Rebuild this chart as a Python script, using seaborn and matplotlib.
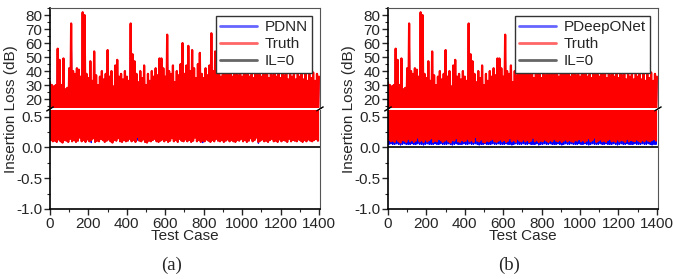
import numpy as np
import pandas as pd
import matplotlib
matplotlib.use("Agg")
import matplotlib.pyplot as plt
from matplotlib.lines import Line2D
from matplotlib.ticker import MultipleLocator
import seaborn as sns

sns.set_style("ticks")
plt.rcParams["font.family"] = ["Liberation Sans", "DejaVu Sans"]
plt.rcParams["axes.unicode_minus"] = False

# test case positions of the sampled peaks / valleys
case_hi = np.arange(0, 1401, 10)
case_lo = case_hi[:-1] + 5

# insertion loss peaks (dB), one every 10 test cases
truth_hi = [32, 30, 29, 30, 56, 48, 30, 49, 27, 28,
            42, 74, 40, 38, 42, 41, 36, 82, 80, 38,
            35, 47, 33, 54, 37, 30, 36, 40, 34, 38,
            55, 36, 40, 29, 44, 48, 36, 38, 34, 40,
            36, 33, 74, 52, 47, 38, 32, 40, 35, 44,
            30, 38, 33, 40, 36, 42, 37, 49, 49, 42,
            36, 66, 40, 38, 44, 32, 40, 37, 45, 60,
            38, 44, 58, 40, 55, 42, 35, 45, 53, 38,
            35, 42, 37, 44, 67, 40, 54, 38, 42, 36,
            40, 38, 44, 62, 40, 36, 38, 42, 37, 40,
            36, 41, 38, 42, 36, 40, 35, 41, 38, 40,
            36, 42, 38, 40, 35, 41, 37, 40, 36, 39,
            35, 40, 37, 38, 34, 41, 36, 39, 34, 38,
            36, 40, 34, 38, 33, 40, 35, 39, 33, 38,
            36]

# insertion loss valleys (dB)
truth_lo = [0.12, 0.10, 0.11, 0.09, 0.13, 0.10, 0.08, 0.12, 0.11, 0.09,
            0.14, 0.10, 0.12, 0.09, 0.11, 0.16, 0.10, 0.12, 0.09, 0.13,
            0.10, 0.12, 0.15, 0.09, 0.11, 0.10, 0.14, 0.12, 0.09, 0.11,
            0.13, 0.10, 0.08, 0.12, 0.11, 0.15, 0.10, 0.09, 0.12, 0.10,
            0.11, 0.14, 0.10, 0.12, 0.09, 0.17, 0.11, 0.10, 0.13, 0.09,
            0.08, 0.11, 0.10, 0.12, 0.14, 0.10, 0.09, 0.11, 0.13, 0.10,
            0.12, 0.09, 0.11, 0.15, 0.10, 0.12, 0.09, 0.14, 0.11, 0.10,
            0.13, 0.10, 0.12, 0.09, 0.11, 0.16, 0.10, 0.12, 0.09, 0.11,
            0.10, 0.13, 0.11, 0.09, 0.12, 0.10, 0.14, 0.11, 0.10, 0.12,
            0.09, 0.11, 0.13, 0.10, 0.12, 0.10, 0.09, 0.12, 0.11, 0.14,
            0.10, 0.12, 0.09, 0.11, 0.15, 0.10, 0.12, 0.16, 0.09, 0.11,
            0.13, 0.10, 0.11, 0.09, 0.12, 0.14, 0.10, 0.11, 0.09, 0.13,
            0.10, 0.12, 0.11, 0.09, 0.14, 0.10, 0.12, 0.11, 0.10, 0.13,
            0.11, 0.09, 0.12, 0.10, 0.13, 0.11, 0.10, 0.12, 0.14, 0.11]

# PDNN follows the truth almost exactly
pdnn_lo = list(truth_lo)
pdnn_lo[21] = 0.08
pdnn_lo[45] = 0.12
pdnn_lo[79] = 0.08
pdnn_lo[108] = 0.07

# PDeepONet valleys sit a bit lower
pdeep_lo = [0.05, 0.06, 0.05, 0.05, 0.06, 0.05, 0.04, 0.05, 0.06, 0.05,
            0.05, 0.05, 0.06, 0.05, 0.05, 0.06, 0.05, 0.05, 0.04, 0.05,
            0.06, 0.05, 0.05, 0.05, 0.06, 0.05, 0.05, 0.06, 0.05, 0.05,
            0.05, 0.06, 0.05, 0.04, 0.05, 0.06, 0.05, 0.05, 0.05, 0.06,
            0.05, 0.05, 0.06, 0.05, 0.05, 0.06, 0.05, 0.04, 0.05, 0.05,
            0.06, 0.05, 0.05, 0.05, 0.06, 0.05, 0.05, 0.06, 0.05, 0.05,
            0.05, 0.06, 0.05, 0.05, 0.04, 0.05, 0.06, 0.05, 0.05, 0.05,
            0.06, 0.05, 0.05, 0.06, 0.05, 0.05, 0.05, 0.06, 0.04, 0.05,
            0.05, 0.06, 0.05, 0.05, 0.06, 0.05, 0.05, 0.05, 0.06, 0.05,
            0.04, 0.05, 0.06, 0.05, 0.05, 0.06, 0.05, 0.05, 0.05, 0.06,
            0.05, 0.05, 0.06, 0.05, 0.04, 0.05, 0.06, 0.05, 0.05, 0.05,
            0.06, 0.05, 0.05, 0.06, 0.05, 0.05, 0.05, 0.06, 0.05, 0.04,
            0.05, 0.06, 0.05, 0.05, 0.06, 0.05, 0.05, 0.05, 0.06, 0.05,
            0.05, 0.05, 0.06, 0.05, 0.05, 0.06, 0.05, 0.04, 0.05, 0.05]


def zigzag(hi, lo):
    x, y = [], []
    for i in range(len(lo)):
        x += [case_hi[i], case_lo[i]]
        y += [hi[i], lo[i]]
    x.append(case_hi[-1])
    y.append(hi[-1])
    return pd.DataFrame({"case": x, "il": y})


fig = plt.figure(figsize=(6.73, 2.79), dpi=100)
FS = 11


def panel(x0, pred_name, pred_lo, tag):
    top = fig.add_axes([x0, 0.613, 0.401, 0.358])
    bot = fig.add_axes([x0, 0.251, 0.401, 0.355])
    pred = zigzag(truth_hi, pred_lo)
    truth = zigzag(truth_hi, truth_lo)
    for ax in (top, bot):
        sns.lineplot(data=pred, x="case", y="il", ax=ax, color="blue", lw=1.0,
                     sort=False, estimator=None)
        sns.lineplot(data=truth, x="case", y="il", ax=ax, color="red", lw=1.6,
                     sort=False, estimator=None)
        ax.set_xlim(0, 1405)
        ax.set_xlabel("")
        ax.set_ylabel("")
        ax.tick_params(axis="both", which="major", direction="out", length=4,
                       width=1, labelsize=FS, pad=1.5)
        ax.tick_params(axis="both", which="minor", direction="out", length=2, width=0.8)
        ax.spines["left"].set_linewidth(1.2)
        ax.spines["left"].set_color("black")
        for s in ("top", "right"):
            ax.spines[s].set_visible(True)
            ax.spines[s].set_linewidth(0.8)
            ax.spines[s].set_color("#555555")
    bot.axhline(0, color="black", lw=1.2)

    top.set_ylim(13.6, 85)
    top.yaxis.set_major_locator(MultipleLocator(10))
    top.yaxis.set_minor_locator(MultipleLocator(5))
    top.set_yticks(range(20, 81, 10))
    top.tick_params(axis="x", which="both", bottom=False, labelbottom=False)
    top.spines["bottom"].set_visible(False)

    bot.set_ylim(-1.0, 0.61)
    bot.yaxis.set_major_locator(MultipleLocator(0.5))
    bot.yaxis.set_minor_locator(MultipleLocator(0.25))
    bot.yaxis.set_major_formatter(matplotlib.ticker.FormatStrFormatter("%.1f"))
    bot.xaxis.set_major_locator(MultipleLocator(200))
    bot.xaxis.set_minor_locator(MultipleLocator(100))
    bot.spines["top"].set_visible(False)
    bot.spines["bottom"].set_linewidth(1.2)
    bot.spines["bottom"].set_color("black")
    bot.set_xlabel("Test Case", fontsize=FS, labelpad=-1)

    # break marks
    d = 0.012
    kw = dict(color="black", lw=0.8, clip_on=False)
    for xe in (0, 1):
        top.plot((xe - d, xe + d), (-0.03, 0.01), transform=top.transAxes, **kw)
        bot.plot((xe - d, xe + d), (0.99, 1.03), transform=bot.transAxes, **kw)

    handles = [Line2D([], [], color="blue", alpha=0.6, lw=2),
               Line2D([], [], color="red", alpha=0.6, lw=2),
               Line2D([], [], color="black", alpha=0.6, lw=2)]
    leg = top.legend(handles, [pred_name, "Truth", "IL=0"], loc="upper right",
                     fontsize=FS, frameon=True, fancybox=False,
                     handlelength=2.4, labelspacing=0.2, borderpad=0.3,
                     handletextpad=0.5, borderaxespad=0.5)
    leg.get_frame().set_edgecolor("#333333")
    leg.get_frame().set_linewidth(1.0)
    leg.get_frame().set_alpha(1)

    fig.text(x0 - 0.058, 0.61, "Insertion Loss (dB)", rotation=90, fontsize=FS,
             ha="center", va="center")
    fig.text(x0 + 0.18, 0.05, tag, fontsize=13.5, ha="center", va="center",
             family=["Liberation Serif", "DejaVu Serif"])


panel(0.0743, "PDNN", pdnn_lo, "(a)")
panel(0.5765, "PDeepONet", pdeep_lo, "(b)")

fig.savefig("out.png", dpi=100)
